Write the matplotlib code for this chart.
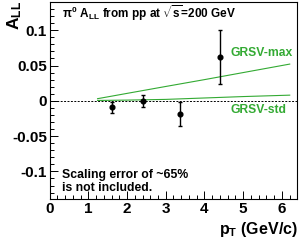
import numpy as np
import matplotlib
matplotlib.use('Agg')
import matplotlib.pyplot as plt
from matplotlib.ticker import MultipleLocator

plt.rcParams['font.family'] = ['Liberation Sans', 'DejaVu Sans']
plt.rcParams['mathtext.fontset'] = 'custom'
plt.rcParams['mathtext.rm'] = 'Liberation Sans:bold'
plt.rcParams['mathtext.it'] = 'Liberation Sans:bold'
plt.rcParams['mathtext.bf'] = 'Liberation Sans:bold'

# data points
pt = [1.61, 2.42, 3.38, 4.39]
all_val = [-0.0094, 0.0, -0.018, 0.062]
all_err = [0.0078, 0.0082, 0.017, 0.038]

# theory curves
grsv_pt = [1.24, 2.0, 3.0, 4.0, 5.0, 6.2]
grsv_max = [0.003, 0.0105, 0.0203, 0.030, 0.040, 0.052]
grsv_std = [0.0005, 0.001, 0.002, 0.004, 0.006, 0.008]

green = '#33aa33'

fig = plt.figure(figsize=(3.02, 2.45), dpi=100)
ax = fig.add_axes([0.164, 0.188, 0.821, 0.804])

ax.axhline(0, color='black', lw=0.7, ls=(0, (2, 1.5)))
ax.plot(grsv_pt, grsv_max, color=green, lw=0.8)
ax.plot(grsv_pt, grsv_std, color=green, lw=0.8)
ax.errorbar(pt, all_val, yerr=all_err, fmt='o', color='black', ms=3.4,
            elinewidth=1.0, capsize=1.5, capthick=1.0)

ax.set_xlim(0, 6.4)
ax.set_ylim(-0.139, 0.14)
ax.xaxis.set_major_locator(MultipleLocator(1))
ax.xaxis.set_minor_locator(MultipleLocator(0.2))
ax.yaxis.set_minor_locator(MultipleLocator(0.01))
ax.set_yticks([-0.1, -0.05, 0, 0.05, 0.1])
ax.set_yticklabels(['-0.1', '-0.05', '0', '0.05', '0.1'])
ax.tick_params(which='both', direction='in', top=False, right=False,
               labelsize=11, width=0.7)
ax.tick_params(which='major', length=6, pad=2)
ax.tick_params(which='minor', length=3)
for lab in ax.get_xticklabels() + ax.get_yticklabels():
    lab.set_fontweight('bold')
for s in ax.spines.values():
    s.set_linewidth(0.8)

fig.text(0.05, 0.998, r'$\mathbf{A_{LL}}$', rotation=90, ha='center', va='top',
         fontsize=12.5, fontweight='bold')
fig.text(0.987, 0.065, r'$\mathbf{p_{T}}$ (GeV/c)', ha='right', va='center',
         fontsize=11.5, fontweight='bold')

ax.text(0.05, 0.944, r'$\pi^{0}$ $\mathbf{A_{LL}}$ from pp at $\sqrt{\mathrm{s}}$=200 GeV',
        transform=ax.transAxes, ha='left', va='center', fontsize=8.5, fontweight='bold')
ax.text(0.728, 0.741, 'GRSV-max', transform=ax.transAxes, ha='left', va='center',
        fontsize=8.7, fontweight='bold', color=green)
ax.text(0.728, 0.452, 'GRSV-std', transform=ax.transAxes, ha='left', va='center',
        fontsize=8.7, fontweight='bold', color=green)
ax.text(0.05, 0.089, 'Scaling error of ~65%\nis not included.', transform=ax.transAxes,
        ha='left', va='center', fontsize=8.8, fontweight='bold', linespacing=1.15)

fig.savefig('out.png', dpi=100)
